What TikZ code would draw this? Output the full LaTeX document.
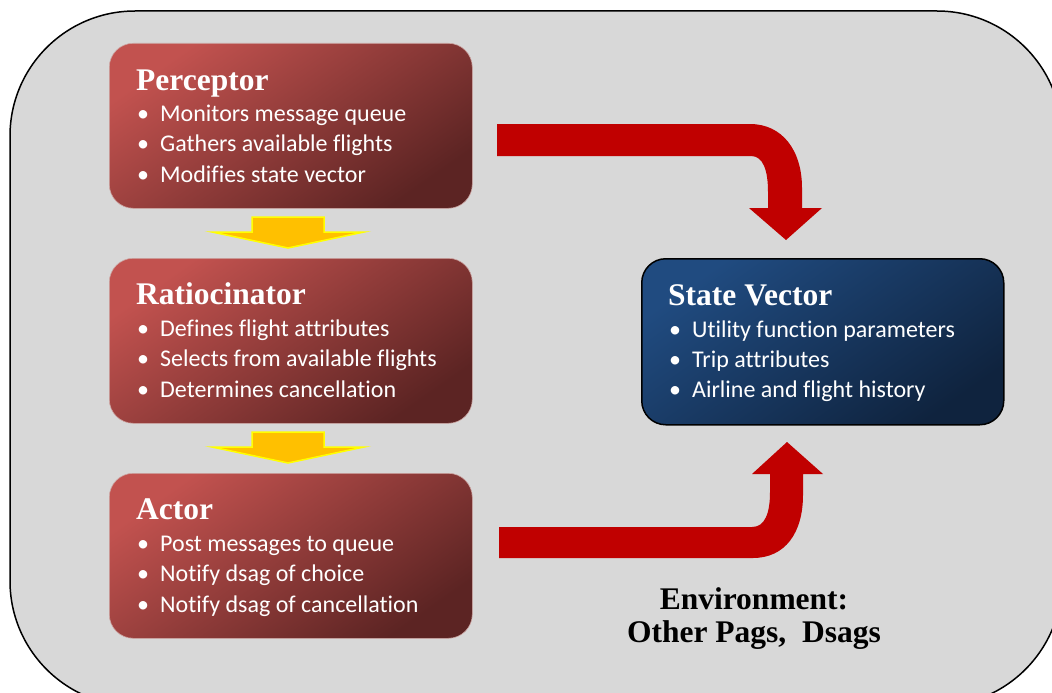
\documentclass[tikz,border=0pt]{standalone}
\usepackage{fontspec}
\setmainfont{Liberation Serif}
\newfontfamily\calibri[Ligatures=NoCommon]{Carlito}
\definecolor{panelgray}{RGB}{216,216,216}
\definecolor{redlight}{RGB}{194,82,79}
\definecolor{reddark}{RGB}{92,36,35}
\definecolor{rededge}{RGB}{205,165,162}
\definecolor{bluelight}{RGB}{32,75,128}
\definecolor{bluedark}{RGB}{15,35,62}
\definecolor{flowred}{RGB}{192,0,0}
\definecolor{stepgold}{RGB}{255,192,0}
\definecolor{stepedge}{RGB}{255,255,0}
\newcommand\bulletmark{\makebox[23pt][l]{•}}
\begin{document}
\begin{tikzpicture}[x=1pt,y=-1pt,
  panel/.style={fill=panelgray, draw=black, line width=1.5pt, rounded corners=125pt},
  agentbox/.style={rounded corners=24pt, top color=redlight, bottom color=reddark,
    shading angle=35, draw=rededge, line width=0.6pt,
    minimum width=363pt, minimum height=165pt, anchor=north west, inner sep=0pt},
  statebox/.style={rounded corners=24pt, top color=bluelight, bottom color=bluedark,
    shading angle=35, draw=black, line width=1.5pt,
    minimum width=362pt, minimum height=166pt, anchor=north west, inner sep=0pt},
  boxtitle/.style={anchor=base west, inner sep=0pt, text=white,
    font=\fontsize{31.5}{36}\selectfont\bfseries},
  boxitem/.style={anchor=base west, inner sep=0pt, text=white,
    font=\calibri\fontsize{24}{29}\selectfont},
  envtext/.style={anchor=base, inner sep=0pt, text=black,
    font=\fontsize{31.5}{36}\selectfont\bfseries},
  steparrow/.style={fill=stepgold, draw=stepedge, line width=1.5pt, line join=miter},
  flowarrow/.style={fill=flowred}
]
\useasboundingbox (0,0) rectangle (1052,693);

% background panel (runs past the page edge on the right and bottom)
\draw[panel] (10,11) rectangle (1062,706);

% agent components
\node[agentbox] (perc) at (109,43) {};
\node[agentbox] (ratio) at (109,258) {};
\node[agentbox] (actor) at (109,473) {};
\node[statebox] (state) at (641,258) {};

% Perceptor
\node[boxtitle] (percT) at (136,90) {Perceptor};
\node[boxitem] (perc1) at (137,121) {\bulletmark Monitors message queue};
\node[boxitem] (perc2) at (137,151) {\bulletmark Gathers available flights};
\node[boxitem] (perc3) at (137,182) {\bulletmark Modifies state vector};

% Ratiocinator
\node[boxtitle] (ratioT) at (136,304) {Ratiocinator};
\node[boxitem] (ratio1) at (137,336) {\bulletmark Defines flight attributes};
\node[boxitem] (ratio2) at (137,366) {\bulletmark Selects from available flights};
\node[boxitem] (ratio3) at (137,397) {\bulletmark Determines cancellation};

% Actor
\node[boxtitle] (actorT) at (136,519) {Actor};
\node[boxitem] (actor1) at (137,551) {\bulletmark Post messages to queue};
\node[boxitem] (actor2) at (137,581) {\bulletmark Notify dsag of choice};
\node[boxitem] (actor3) at (137,612) {\bulletmark Notify dsag of cancellation};

% State Vector
\node[boxtitle] (stateT) at (668,305) {State Vector};
\node[boxitem] (state1) at (669,337) {\bulletmark Utility function parameters};
\node[boxitem] (state2) at (669,367) {\bulletmark Trip attributes};
\node[boxitem] (state3) at (669,397) {\bulletmark Airline and flight history};

% environment label
\node[envtext] (env1) at (754,609) {Environment:};
\node[envtext] (env2) at (754,642) {Other Pags,\ \ Dsags};

% downward block arrows between the stages
\draw[steparrow] (252,217) -- (324,217) -- (324,232) -- (364,232) -- (288,248)
  -- (212,232) -- (252,232) -- cycle;
\draw[steparrow] (252,432) -- (324,432) -- (324,447) -- (364,447) -- (288,463)
  -- (212,447) -- (252,447) -- cycle;

% bent arrow: Perceptor writes the state vector
\fill[flowarrow] (497,124) -- (750,124) .. controls (782,124) and (802,150) .. (802,188)
  -- (802,208) -- (822,208) -- (786,240) -- (749,208) -- (768,208) -- (768,192)
  .. controls (768,170) and (763,156) .. (751,156) -- (497,156) -- cycle;

% bent arrow: Actor feeds back to the state vector
\fill[flowarrow] (499,558) -- (753,558) .. controls (785,558) and (803,533) .. (803,495)
  -- (803,474) -- (823,474) -- (787,442) -- (752,474) -- (770,474) -- (770,492)
  .. controls (770,513) and (765,527) .. (752,527) -- (499,527) -- cycle;
\end{tikzpicture}
\end{document}
